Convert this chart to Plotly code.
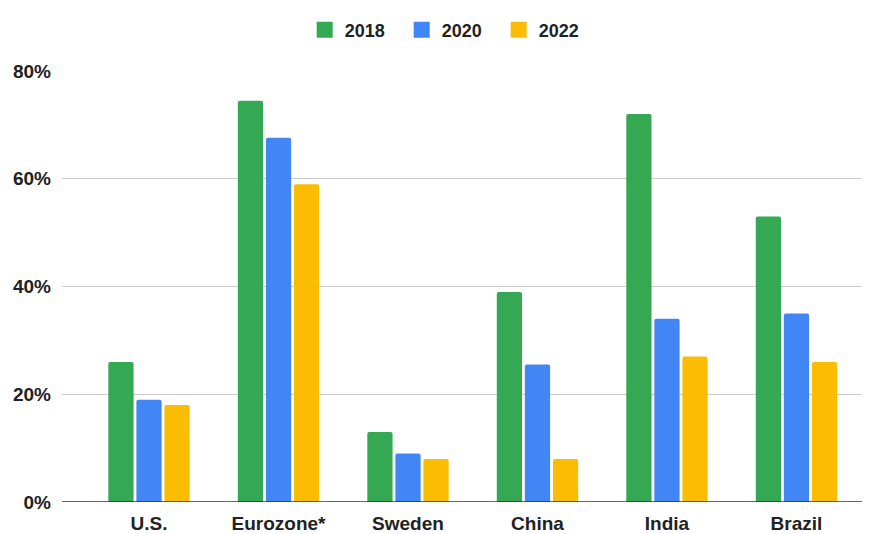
import plotly.graph_objects as go

categories = ["U.S.", "Eurozone*", "Sweden", "China", "India", "Brazil"]
v2018 = [26, 74.5, 13, 39, 72, 53]
v2020 = [19, 67.6, 9, 25.5, 34, 35]
v2022 = [18, 59, 8, 8, 27, 26]
series_names = ["2018", "2020", "2022"]
colors = ["#34A853", "#4285F4", "#FBBC04"]

FONT = "Liberation Sans, Arial, sans-serif"

fig = go.Figure()
for name, vals, c in zip(series_names, [v2018, v2020, v2022], colors):
    fig.add_trace(go.Bar(name=name, x=list(range(len(categories))), y=vals,
                         marker=dict(color=c, line=dict(width=0)), showlegend=False,
                         legendgroup=name))
# legend entries with larger square swatches
for name, c in zip(series_names, colors):
    fig.add_trace(go.Scatter(name=name, x=[None], y=[None], mode="markers",
                             marker=dict(symbol="square", size=16, color=c),
                             legendgroup=name, showlegend=True))

fig.update_layout(
    width=862, height=526,
    margin=dict(l=54, r=0, t=63, b=32, autoexpand=False),
    plot_bgcolor="white", paper_bgcolor="white",
    barmode="group", bargap=0.35, bargroupgap=0.1, barcornerradius=2,
    font=dict(family=FONT, size=18, color="#222"),
    legend=dict(orientation="h", xref="container", yref="container",
                x=0.513, xanchor="center", y=0.958, yanchor="middle",
                font=dict(size=18, family=FONT, weight="bold", color="#222"),
                entrywidth=52, entrywidthmode="pixels", traceorder="normal"),
    xaxis=dict(tickmode="array", tickvals=list(range(len(categories))), ticktext=categories,
               range=[-0.672, 5.568], showgrid=False, showline=False, zeroline=False,
               tickfont=dict(size=19, weight="bold", color="#222"), ticks="",
               ticklabelstandoff=8, automargin=False),
    yaxis=dict(range=[0, 80], tickvals=[0, 20, 40, 60, 80], ticktext=["0%", "20%", "40%", "60%", "80%"],
               showgrid=True, gridcolor="#cccccc", gridwidth=1, zeroline=False,
               showline=False, tickfont=dict(size=19, weight="bold", color="#222"), ticks="",
               ticklabelstandoff=10, automargin=False),
)
fig.add_hline(y=0, line=dict(color="#333333", width=1.5), layer="above")
fig.write_html("out.html")
